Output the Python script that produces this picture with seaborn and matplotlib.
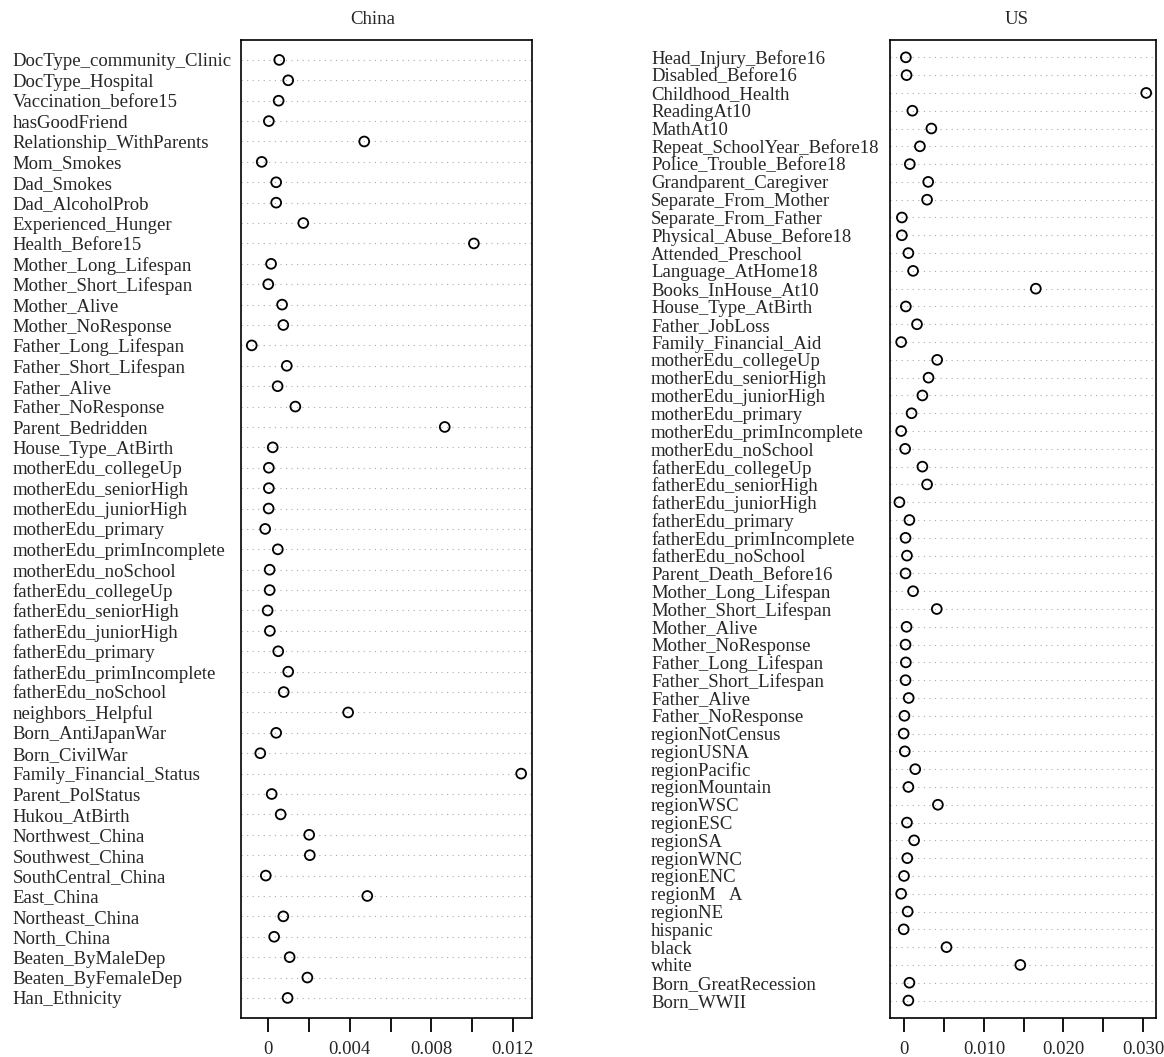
import numpy as np
import pandas as pd
import matplotlib
matplotlib.use("Agg")
import matplotlib.pyplot as plt
import seaborn as sns

# --- data -------------------------------------------------------------------
china_labels = [
    "DocType_community_Clinic", "DocType_Hospital", "Vaccination_before15",
    "hasGoodFriend", "Relationship_WithParents", "Mom_Smokes", "Dad_Smokes",
    "Dad_AlcoholProb", "Experienced_Hunger", "Health_Before15",
    "Mother_Long_Lifespan", "Mother_Short_Lifespan", "Mother_Alive",
    "Mother_NoResponse", "Father_Long_Lifespan", "Father_Short_Lifespan",
    "Father_Alive", "Father_NoResponse", "Parent_Bedridden",
    "House_Type_AtBirth", "motherEdu_collegeUp", "motherEdu_seniorHigh",
    "motherEdu_juniorHigh", "motherEdu_primary", "motherEdu_primIncomplete",
    "motherEdu_noSchool", "fatherEdu_collegeUp", "fatherEdu_seniorHigh",
    "fatherEdu_juniorHigh", "fatherEdu_primary", "fatherEdu_primIncomplete",
    "fatherEdu_noSchool", "neighbors_Helpful", "Born_AntiJapanWar",
    "Born_CivilWar", "Family_Financial_Status", "Parent_PolStatus",
    "Hukou_AtBirth", "Northwest_China", "Southwest_China",
    "SouthCentral_China", "East_China", "Northeast_China", "North_China",
    "Beaten_ByMaleDep", "Beaten_ByFemaleDep", "Han_Ethnicity",
]
china_values = [
    0.00054, 0.00098, 0.00051, 0.00003, 0.00471, -0.00032, 0.00039,
    0.00039, 0.00172, 0.01009, 0.00014, 0.00000, 0.00068, 0.00074,
    -0.00081, 0.00091, 0.00046, 0.00133, 0.00866, 0.00022, 0.00003,
    0.00003, 0.00002, -0.00015, 0.00047, 0.00007, 0.00007, -0.00003,
    0.00008, 0.00049, 0.00098, 0.00076, 0.00392, 0.00039, -0.00039,
    0.01241, 0.00017, 0.00061, 0.00201, 0.00204, -0.00012, 0.00486,
    0.00074, 0.00029, 0.00105, 0.00192, 0.00095,
]

us_labels = [
    "Head_Injury_Before16", "Disabled_Before16", "Childhood_Health",
    "ReadingAt10", "MathAt10", "Repeat_SchoolYear_Before18",
    "Police_Trouble_Before18", "Grandparent_Caregiver",
    "Separate_From_Mother", "Separate_From_Father",
    "Physical_Abuse_Before18", "Attended_Preschool", "Language_AtHome18",
    "Books_InHouse_At10", "House_Type_AtBirth", "Father_JobLoss",
    "Family_Financial_Aid", "motherEdu_collegeUp", "motherEdu_seniorHigh",
    "motherEdu_juniorHigh", "motherEdu_primary", "motherEdu_primIncomplete",
    "motherEdu_noSchool", "fatherEdu_collegeUp", "fatherEdu_seniorHigh",
    "fatherEdu_juniorHigh", "fatherEdu_primary", "fatherEdu_primIncomplete",
    "fatherEdu_noSchool", "Parent_Death_Before16", "Mother_Long_Lifespan",
    "Mother_Short_Lifespan", "Mother_Alive", "Mother_NoResponse",
    "Father_Long_Lifespan", "Father_Short_Lifespan", "Father_Alive",
    "Father_NoResponse", "regionNotCensus", "regionUSNA", "regionPacific",
    "regionMountain", "regionWSC", "regionESC", "regionSA", "regionWNC",
    "regionENC", "regionM   A", "regionNE", "hispanic", "black", "white",
    "Born_GreatRecession", "Born_WWII",
]
us_values = [
    0.00018, 0.00027, 0.03040, 0.00100, 0.00339, 0.00195, 0.00068,
    0.00299, 0.00285, -0.00032, -0.00032, 0.00050, 0.00109, 0.01652,
    0.00018, 0.00158, -0.00041, 0.00412, 0.00303, 0.00226, 0.00090,
    -0.00041, 0.00009, 0.00226, 0.00285, -0.00063, 0.00063, 0.00014,
    0.00032, 0.00014, 0.00109, 0.00407, 0.00027, 0.00014, 0.00018,
    0.00014, 0.00054, 0.00000, -0.00009, 0.00005, 0.00136, 0.00050,
    0.00421, 0.00032, 0.00122, 0.00036, -0.00005, -0.00041, 0.00041,
    -0.00009, 0.00529, 0.01457, 0.00063, 0.00050,
]

china_ticks = [0, 0.002, 0.004, 0.006, 0.008, 0.010, 0.012]
china_ticklabels = ["0", "", "0.004", "", "0.008", "", "0.012"]
us_ticks = [0, 0.005, 0.010, 0.015, 0.020, 0.025, 0.030]
us_ticklabels = ["0", "", "0.010", "", "0.020", "", "0.030"]

# --- style ------------------------------------------------------------------
sns.set_theme(style="white")
plt.rcParams["font.family"] = ["Liberation Serif", "DejaVu Serif"]
FS = 13.5


def dotchart(ax, labels, values, ticks, ticklabels, title, label_pad, title_x):
    n = len(labels)
    df = pd.DataFrame({"value": values, "pos": np.arange(n)})

    # R style range: data range stretched by 4%
    lo, hi = min(values), max(values)
    margin = 0.04 * (hi - lo)
    ax.set_xlim(lo - margin, hi + margin)
    ax.set_ylim(n, -1)

    for p in df["pos"]:
        ax.axhline(p, color="#aaaaaa", lw=0.8, ls=(0, (1, 4)), zorder=1)

    sns.scatterplot(data=df, x="value", y="pos", ax=ax, marker="o", s=50,
                    facecolors="none", edgecolor="black", linewidth=1.3,
                    zorder=3, legend=False)

    ax.set_yticks(df["pos"])
    ax.set_yticklabels(labels, ha="left", va="center_baseline", fontsize=FS)
    ax.tick_params(axis="y", length=0, pad=label_pad)

    ax.set_xticks(ticks)
    ax.set_xticklabels(ticklabels, fontsize=FS)
    ax.tick_params(axis="x", direction="out", length=10, width=1.3,
                   pad=6, color="black", bottom=True)

    for sp in ax.spines.values():
        sp.set_visible(True)
        sp.set_color("black")
        sp.set_linewidth(1.2)

    ax.set_xlabel("")
    ax.set_ylabel("")
    ax.set_title(title, x=title_x, pad=11, fontsize=FS)


fig = plt.figure(figsize=(11.64, 10.57), dpi=100)
ax_cn = fig.add_axes([0.2070, 0.0366, 0.2500, 0.9260])
ax_us = fig.add_axes([0.7642, 0.0366, 0.2290, 0.9260])

dotchart(ax_cn, china_labels, china_values, china_ticks, china_ticklabels,
         "China", 164.5, 0.454)
dotchart(ax_us, us_labels, us_values, us_ticks, us_ticklabels,
         "US", 171.7, 0.477)

fig.savefig("out.png", dpi=100, facecolor="white")
plt.close(fig)
